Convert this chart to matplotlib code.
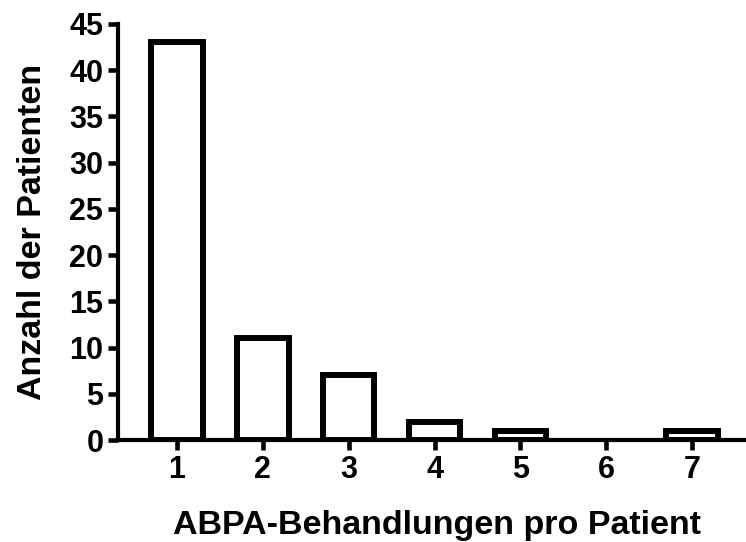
import matplotlib
matplotlib.use("Agg")
import matplotlib.pyplot as plt

plt.rcParams["font.family"] = ["Liberation Sans", "DejaVu Sans"]
plt.rcParams["font.weight"] = "bold"

categories = [1, 2, 3, 4, 5, 6, 7]
patients = [43, 11, 7, 2, 1, 0, 1]
yticks = [0, 5, 10, 15, 20, 25, 30, 35, 40, 45]

fig = plt.figure(figsize=(7.46, 5.42), dpi=100)
ax = fig.add_axes([0.158, 0.188, 0.841, 0.768])

# empty categories get no outline, like the original
edge_widths = [4.3 if v > 0 else 0 for v in patients]
ax.bar(categories, patients, width=0.6, facecolor="white", edgecolor="black",
       linewidth=edge_widths, joinstyle="miter")

ax.set_xlim(0.31, 7.62)
ax.set_ylim(0, 45)
ax.set_xticks(categories)
ax.set_yticks(yticks)

for side in ["top", "right"]:
    ax.spines[side].set_visible(False)
for side in ["left", "bottom"]:
    ax.spines[side].set_linewidth(3)
ax.tick_params(width=3.3, length=7.5, labelsize=22, pad=3)
for lbl in ax.get_xticklabels() + ax.get_yticklabels():
    lbl.set_fontweight("bold")

ax.set_xlabel("ABPA-Behandlungen pro Patient", fontsize=24.5, fontweight="bold", labelpad=18)
ax.xaxis.label.set_x(0.509)
ax.set_ylabel("Anzahl der Patienten", fontsize=24.5, fontweight="bold", labelpad=15)

fig.savefig("out.png", dpi=100)
